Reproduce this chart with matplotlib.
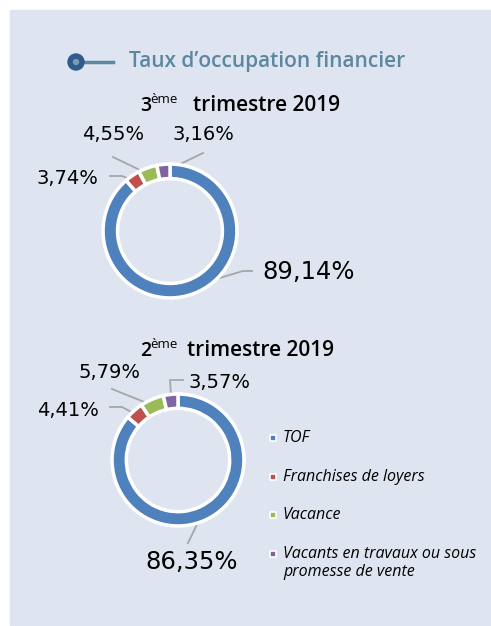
import numpy as np
import matplotlib.pyplot as plt

# Données
categories = ['TOF', 'Franchises de loyers', 'Vacance',
              'Vacants en travaux ou sous\npromesse de vente']
couleurs = ['#4f81bd', '#c0504d', '#9bbb59', '#8064a2']
t3_valeurs = [89.14, 3.74, 4.55, 3.16]
t2_valeurs = [86.35, 4.41, 5.79, 3.57]
titre = "Taux d\u2019occupation financier"

W, H = 491, 626
fig = plt.figure(figsize=(W/100, H/100), dpi=100)
fig.patch.set_facecolor('white')

# couche en pixels pour fond, textes et lignes de rappel
bg = fig.add_axes([0, 0, 1, 1])
bg.set_xlim(0, W)
bg.set_ylim(H, 0)
bg.axis('off')
bg.add_patch(plt.Rectangle((10, 10), W - 10, 615, color='#dfe5f0', zorder=0))

# titre + pictogramme
bg.plot([82, 113], [62, 62], color='#5b87a1', lw=2.5, zorder=2)
bg.add_patch(plt.Circle((76, 62), 8, color='#305b8c', zorder=3))
bg.add_patch(plt.Circle((76, 62), 2.5, color='#7b9cb0', zorder=4))
bg.text(129, 61, titre, fontsize=15, fontweight='semibold', color='#5b87a1',
        family='Open Sans', va='center', ha='left')


def sous_titre(x, y, num, decal):
    bg.text(x, y, num, fontsize=14, fontweight='semibold', family='Open Sans',
            va='baseline', ha='left')
    bg.text(x + 10, y - 8, '\u00e8me', fontsize=9.5, family='Open Sans',
            va='baseline', ha='left')
    bg.text(x + decal, y, 'trimestre 2019', fontsize=15, fontweight='semibold',
            family='Open Sans', va='baseline', ha='left')


sous_titre(140, 111, '3', 53)
sous_titre(140, 356, '2', 47)


def donut(cx, cy, R, valeurs, etiquettes):
    ax = fig.add_axes([(cx - R) / W, 1 - (cy + R) / H, 2 * R / W, 2 * R / H])
    wedges, _ = ax.pie(valeurs, colors=couleurs, startangle=90, counterclock=False,
                       radius=0.97, wedgeprops=dict(width=0.21, edgecolor='white',
                                                    linewidth=2.5))
    for w in wedges:
        w.set_clip_on(False)
    ax.set_xlim(-1, 1)
    ax.set_ylim(-1, 1)
    ax.axis('off')
    tot = sum(valeurs)
    debut = 90.0
    for v, w, (tx, ty, coude, fs) in zip(valeurs, wedges, etiquettes):
        ang = np.deg2rad(debut - v / tot * 360 / 2)
        debut -= v / tot * 360
        px = cx + 0.86 * R * np.cos(ang)
        py = cy - 0.86 * R * np.sin(ang)
        xs = [px] + [c[0] for c in coude]
        ys = [py] + [c[1] for c in coude]
        bg.plot(xs, ys, color='#a6a6a6', lw=1.3, zorder=5)
        txt = ('%.2f%%' % v).replace('.', ',')
        bg.text(tx, ty, txt, fontsize=fs, family='DejaVu Sans', va='center',
                ha='left', zorder=6)


# (x texte, y texte, points du trait, taille)
donut(170, 231, 69, t3_valeurs, [
    (262, 272, [(243, 271), (252, 271)], 17.5),
    (37, 178, [(122, 176), (110, 176)], 14),
    (82, 135, [(113, 157)], 14),
    (173, 135, [(203, 153)], 14),
])
donut(178, 460, 68, t2_valeurs, [
    (145, 562, [(188, 543)], 17.5),
    (37, 410, [(122, 407), (110, 407)], 14),
    (79, 373, [(112, 389)], 14),
    (189, 383, [(170, 380), (183, 380)], 14),
])

# légende
leg_y = [438, 477, 515, 554]
for c, nom, y in zip(couleurs, categories, leg_y):
    bg.scatter([273], [y], s=22, marker='s', color=c, edgecolor='white',
               linewidth=1.2, zorder=5)
    bg.text(283, y + (-8 if '\n' in nom else 0), nom, fontsize=11.5,
            style='italic', family='Open Sans',
            va='top' if '\n' in nom else 'center', ha='left',
            linespacing=1.2)

fig.savefig('out.png', dpi=100, facecolor='white')
